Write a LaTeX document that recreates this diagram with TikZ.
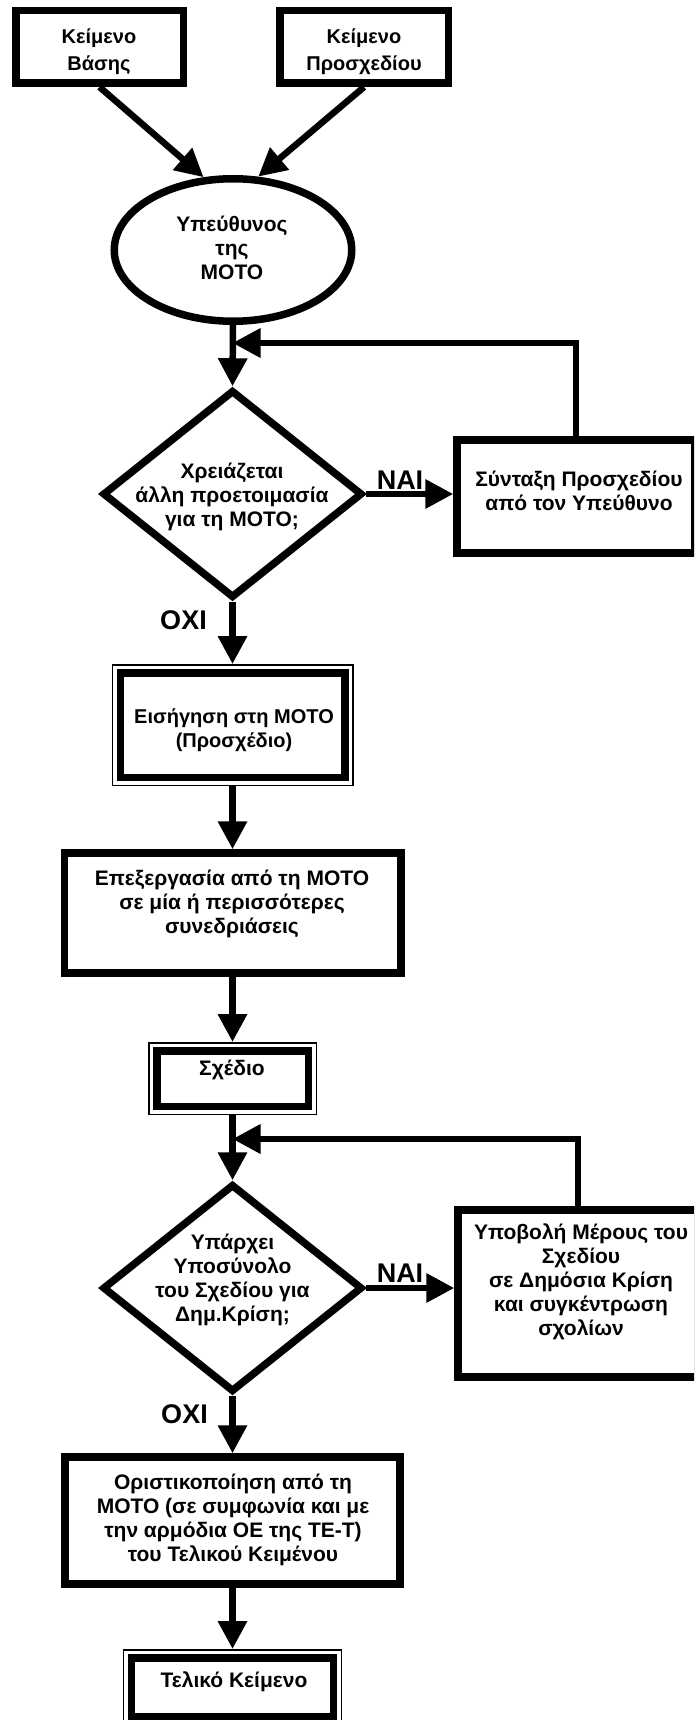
\documentclass[tikz,border=0pt]{standalone}
\usepackage{fontspec}
\setmainfont{Liberation Sans}
\usetikzlibrary{shapes.geometric,arrows.meta}
\begin{document}
\begin{tikzpicture}[x=1pt,y=-1pt,
  every node/.style={font=\fontsize{21}{24}\selectfont\bfseries, align=center},
  box/.style={draw, line width=7.5pt, rectangle, inner sep=0pt},
  thinbox/.style={draw, line width=1.5pt, rectangle, inner sep=0pt},
  dia/.style={draw, diamond, line width=7.5pt, inner sep=0pt, minimum width=260pt, minimum height=208pt},
  oval/.style={draw, ellipse, line width=7.5pt, inner sep=0pt, minimum width=237.5pt, minimum height=142.5pt},
  txt/.style={inner sep=0pt},
  smalltxt/.style={inner sep=0pt, font=\fontsize{20}{24}\selectfont\bfseries},
  lbl/.style={font=\fontsize{27}{30}\selectfont\bfseries, inner sep=0pt},
  arr/.style={line width=6.5pt, -{Triangle[length=28pt,width=28pt]}},
]
\useasboundingbox (0,0) rectangle (694,1720);
\clip (0,0) rectangle (694,1720);

% top boxes
\node[box, minimum width=167.5pt, minimum height=72.5pt] (b1) at (99.5,47) {};
\node[smalltxt] (t1) at (99,52) {Κείμενο\\[3pt]Βάσης};
\node[box, minimum width=168.5pt, minimum height=72.5pt] (b2) at (364,47) {};
\node[smalltxt] (t2) at (364,52) {Κείμενο\\[3pt]Προσχεδίου};

% ellipse
\node[oval] (ell) at (233,250) {};
\node[txt] (t3) at (232,247.5) {Υπεύθυνος\\της\\ΜΟΤΟ};
\draw[arr] (b1.south) -- (ell.112);
\draw[arr] (b2.south) -- (ell.71);

% first decision
\node[dia] (d1) at (232.5,494) {};
\node[txt] (t4) at (232,497) {Χρειάζεται\\άλλη προετοιμασία\\για τη ΜΟΤΟ;};
\coordinate (j1) at (232.5,343);
\draw[arr] (ell.south) -- (d1.north);

\node[box, minimum width=238pt, minimum height=113pt] (s1) at (576,496.5) {};
\node[txt] (t5) at (579,491) {Σύνταξη Προσχεδίου\\από τον Υπεύθυνο};
\draw[arr] (d1.east) -- (d1.east -| s1.west);
\node[lbl] (nai1) at (400,480) {ΝΑΙ};
\draw[arr] (s1.north) |- (j1);
\node[lbl] (oxi1) at (183.5,620) {ΟΧΙ};

% proposal
\node[thinbox, minimum width=240.5pt, minimum height=120.5pt] (e1) at (232.5,725) {};
\node[box, minimum width=224.5pt, minimum height=104.5pt] (e1i) at (e1) {};
\node[smalltxt] (t6) at (234,730) {Εισήγηση στη ΜΟΤΟ\\(Προσχέδιο)};
\draw[arr] (d1.south) -- (e1.north);

% processing
\node[box, minimum width=336.5pt, minimum height=120pt] (p1) at (232.5,913) {};
\node[txt] (t7) at (232,904) {Επεξεργασία από τη ΜΟΤΟ\\σε μία ή περισσότερες\\συνεδριάσεις};
\draw[arr] (e1.south) -- (p1.north);

% draft
\node[thinbox, minimum width=167.5pt, minimum height=71.5pt] (sx) at (232.5,1078.5) {};
\node[box, minimum width=151.5pt, minimum height=55.5pt] (sxi) at (sx) {};
\node[txt] (t8) at (232,1070) {Σχέδιο};
\draw[arr] (p1.south) -- (sx.north);

% second decision
\node[dia] (d2) at (232.5,1288) {};
\node[txt] (t9) at (232.5,1280) {Υπάρχει\\Υποσύνολο\\του Σχεδίου για\\Δημ.Κρίση;};
\coordinate (j2) at (232.5,1139);
\draw[arr] (sx.south) -- (d2.north);

\node[box, minimum width=240pt, minimum height=167pt] (s2) at (578,1293.5) {};
\node[txt] (t10) at (581,1282) {Υποβολή Μέρους του\\Σχεδίου\\σε Δημόσια Κρίση\\και συγκέντρωση\\σχολίων};
\draw[arr] (d2.east) -- (d2.east -| s2.west);
\node[lbl] (nai2) at (400,1273) {ΝΑΙ};
\draw[arr] (s2.north) |- (j2);
\node[lbl] (oxi2) at (184.5,1414) {ΟΧΙ};

% finalisation
\node[box, minimum width=335pt, minimum height=127pt] (o1) at (232.5,1520.5) {};
\node[txt] (t11) at (233,1520) {Οριστικοποίηση από τη\\ΜΟΤΟ (σε συμφωνία και με\\την αρμόδια ΟΕ της ΤΕ-Τ)\\του Τελικού Κειμένου};
\draw[arr] (d2.south) -- (o1.north);

% final text
\node[thinbox, minimum width=218pt, minimum height=75pt] (tk) at (232.5,1687.25) {};
\node[box, minimum width=202pt, minimum height=59pt] (tki) at (tk) {};
\node[txt] (t12) at (234,1682) {Τελικό Κείμενο};
\draw[arr] (o1.south) -- (tk.north);
\end{tikzpicture}
\end{document}
